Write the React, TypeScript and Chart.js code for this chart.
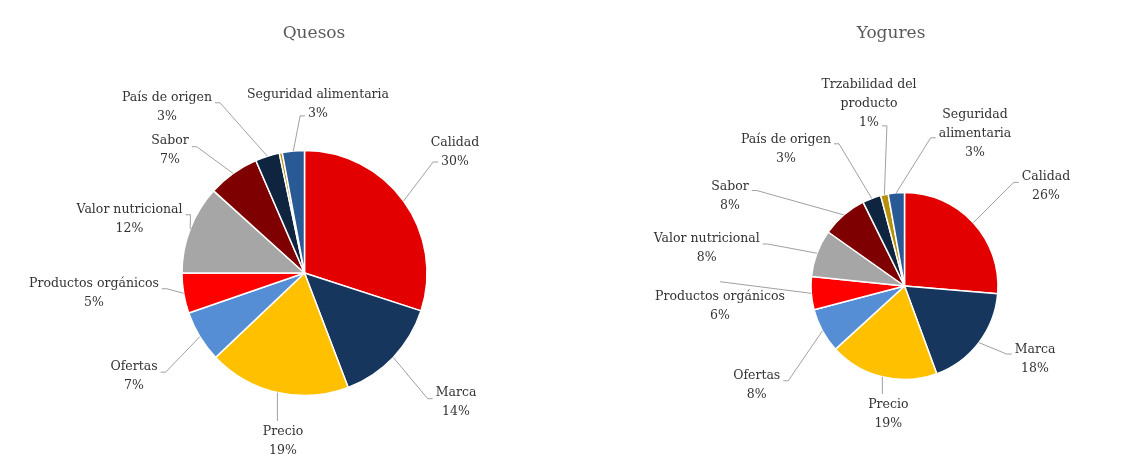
import { useEffect, useRef } from "react";
import { Chart, PieController, ArcElement } from "chart.js";

Chart.register(PieController, ArcElement);

// ---- data ----
const categories = [
  "Calidad",
  "Marca",
  "Precio",
  "Ofertas",
  "Productos orgánicos",
  "Valor nutricional",
  "Sabor",
  "País de origen",
  "Trzabilidad del producto",
  "Seguridad alimentaria",
];
const quesosValues = [30.0, 14.2, 18.7, 6.8, 5.3, 11.7, 6.8, 3.2, 0.4, 2.9];
const yogurValues = [26.3, 18.1, 18.8, 7.7, 5.7, 8.2, 7.9, 3.2, 1.3, 2.8];
const titles = ["Quesos", "Yogures"];

// ---- styles / layout ----
const sliceColors = [
  "#E30000",
  "#17365D",
  "#FFC000",
  "#558ED5",
  "#FF0000",
  "#A6A6A6",
  "#7F0000",
  "#0F243E",
  "#B8900A",
  "#2A5A96",
];
const FONT = '"DejaVu Serif", serif';
const LABEL_SIZE = 12.5;
const LINE_H = 19;

type LabelLayout = { dx: number; dy: number; side: string; t?: number; wrap?: number } | null;

const quesosLayout: LabelLayout[] = [
  { dx: 150.5, dy: -130, side: "left", t: 1.0 },
  { dx: 151.5, dy: 120, side: "left", t: 0.3 },
  { dx: -21.5, dy: 159, side: "top" },
  { dx: -170.5, dy: 93.5, side: "right", t: 0.3 },
  { dx: -210.5, dy: 11, side: "right", t: 0.25 },
  { dx: -175, dy: -63, side: "right", t: 0.25 },
  { dx: -134.5, dy: -132, side: "right", t: 0.3 },
  { dx: -137.5, dy: -175, side: "right", t: 0.25 },
  null,
  { dx: 13.5, dy: -178, side: "left", t: 1.1 },
];
const yogurLayout: LabelLayout[] = [
  { dx: 141.5, dy: -109.3, side: "left", t: 0.3 },
  { dx: 130.5, dy: 63.3, side: "left", t: 0.25 },
  { dx: -16.2, dy: 119, side: "top" },
  { dx: -147.8, dy: 90, side: "right", t: 0.25 },
  { dx: -184.5, dy: 10.7, side: "topc" },
  { dx: -197.8, dy: -47.7, side: "right", t: 0.3 },
  { dx: -174.5, dy: -99.3, side: "right", t: 0.2 },
  { dx: -118.5, dy: -146, side: "right", t: 0.2 },
  { dx: -35.5, dy: -201, side: "right", t: 2.15, wrap: 104 },
  { dx: 70.5, dy: -171, side: "left", t: 1.2, wrap: 104 },
];

function wrapText(ctx: CanvasRenderingContext2D, text: string, maxW?: number): string[] {
  if (!maxW) return [text];
  const words = text.split(" ");
  const lines: string[] = [];
  let cur = "";
  for (const w of words) {
    const test = cur ? cur + " " + w : w;
    if (cur && ctx.measureText(test).width > maxW) {
      lines.push(cur);
      cur = w;
    } else cur = test;
  }
  if (cur) lines.push(cur);
  return lines;
}

const pieLabelsPlugin = {
  id: "pieLabels",
  afterDatasetsDraw(chart: any, _args: any, opts: any) {
    const ctx: CanvasRenderingContext2D = chart.ctx;
    const meta = chart.getDatasetMeta(0);
    const data: number[] = chart.data.datasets[0].data;
    const total = data.reduce((a, b) => a + b, 0);
    const layout: LabelLayout[] = opts.layout;
    ctx.save();
    // title
    ctx.font = `17px ${FONT}`;
    ctx.fillStyle = "#595959";
    ctx.textAlign = "center";
    ctx.textBaseline = "middle";
    ctx.fillText(opts.title, opts.titleX, opts.titleY);

    ctx.font = `${LABEL_SIZE}px ${FONT}`;
    meta.data.forEach((arc: any, i: number) => {
      const lay = layout[i];
      if (!lay) return;
      const p = arc.getProps(["x", "y", "startAngle", "endAngle", "outerRadius"], true);
      const mid = (p.startAngle + p.endAngle) / 2;
      const sx = p.x + Math.cos(mid) * p.outerRadius;
      const sy = p.y + Math.sin(mid) * p.outerRadius;
      const lines = wrapText(ctx, chart.data.labels[i], lay.wrap);
      lines.push(Math.round((data[i] / total) * 100) + "%");
      const cx = p.x + lay.dx;
      const y0 = p.y + lay.dy;

      // leader line
      ctx.strokeStyle = "#A0A0A0";
      ctx.lineWidth = 1;
      ctx.beginPath();
      ctx.moveTo(sx, sy);
      if (lay.side === "top") {
        ctx.lineTo(sx, y0 - 11);
      } else if (lay.side === "topc") {
        ctx.lineTo(cx, y0 - 15);
      } else {
        const t = lay.t ?? 0;
        const li = Math.max(0, Math.min(lines.length - 1, Math.round(t)));
        const w = ctx.measureText(lines[li]).width;
        const ey = y0 + t * LINE_H;
        if (lay.side === "left") {
          const ex = cx - w / 2 - 3;
          ctx.lineTo(ex - 5, ey);
          ctx.lineTo(ex, ey);
        } else {
          const ex = cx + w / 2 + 3;
          ctx.lineTo(ex + 5, ey);
          ctx.lineTo(ex, ey);
        }
      }
      ctx.stroke();

      // text
      ctx.fillStyle = "#333333";
      ctx.textAlign = "center";
      ctx.textBaseline = "middle";
      lines.forEach((ln, k) => ctx.fillText(ln, cx, y0 + k * LINE_H));
    });
    ctx.restore();
  },
};

function makeChart(
  canvas: HTMLCanvasElement,
  values: number[],
  layout: LabelLayout[],
  title: string,
  titleX: number,
  radius: number,
  padding: { left: number; right: number; top: number; bottom: number }
) {
  return new Chart(canvas, {
    type: "pie",
    data: {
      labels: categories,
      datasets: [
        {
          data: values,
          backgroundColor: sliceColors,
          borderColor: "#FFFFFF",
          borderWidth: 1.5,
          hoverOffset: 0,
          offset: 0,
          radius: radius,
        } as any,
      ],
    },
    options: {
      responsive: false,
      animation: false,
      layout: { padding },
      events: [],
      plugins: {
        legend: { display: false },
        tooltip: { enabled: false },
        pieLabels: { layout, title, titleX, titleY: 34 },
      } as any,
    },
    plugins: [pieLabelsPlugin],
  });
}

export default function App() {
  const leftRef = useRef<HTMLCanvasElement | null>(null);
  const rightRef = useRef<HTMLCanvasElement | null>(null);

  useEffect(() => {
    document.body.style.margin = "0";
    const c1 = makeChart(leftRef.current!, quesosValues, quesosLayout, titles[0], 314, 122.5, {
      left: 154.5,
      right: 115.5,
      top: 123,
      bottom: 52,
    });
    const c2 = makeChart(rightRef.current!, yogurValues, yogurLayout, titles[1], 321, 93.5, {
      left: 184.5,
      right: 84.5,
      top: 136,
      bottom: 39,
    });
    return () => {
      c1.destroy();
      c2.destroy();
    };
  }, []);

  return (
    <div style={{ position: "absolute", left: 0, top: 0, width: 1139, height: 475, background: "#fff" }}>
      <canvas
        ref={leftRef}
        width={570}
        height={475}
        style={{ position: "absolute", left: 0, top: 0, width: 570, height: 475 }}
      />
      <canvas
        ref={rightRef}
        width={569}
        height={475}
        style={{ position: "absolute", left: 570, top: 0, width: 569, height: 475 }}
      />
    </div>
  );
}
